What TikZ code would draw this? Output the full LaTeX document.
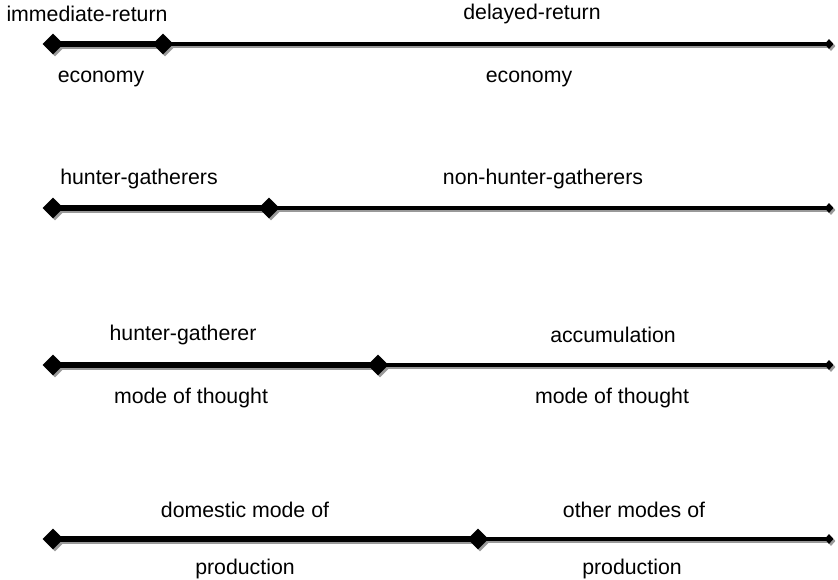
\documentclass[tikz,border=0pt]{standalone}
\usepackage{fontspec}
\setmainfont{Liberation Sans}
\usetikzlibrary{shapes.geometric}
\begin{document}
\begin{tikzpicture}[x=1pt,y=-1pt,
  lbl/.style={font=\fontsize{21.3}{25}\selectfont, inner sep=0pt, anchor=center},
  bigdia/.style={diamond, fill=black, inner sep=0pt, minimum width=21pt, minimum height=21pt},
  smalldia/.style={diamond, fill=black, inner sep=0pt, minimum width=9pt, minimum height=10pt},
  bigshadow/.style={diamond, fill=black!40, inner sep=0pt, minimum width=21pt, minimum height=21pt},
  smallshadow/.style={diamond, fill=black!40, inner sep=0pt, minimum width=9pt, minimum height=10pt},
  thickline/.style={line width=5.8pt},
  thinline/.style={line width=3.2pt},
  thickshadow/.style={line width=5.8pt, draw=black!40},
  thinshadow/.style={line width=3.2pt, draw=black!40}]
\useasboundingbox (0,0) rectangle (838,580);
\foreach \n/\y/\m in {1/44/163, 2/208/269, 3/365/378, 4/539/478}{
  \coordinate (a\n) at (53,\y);
  \coordinate (b\n) at (\m,\y);
  \coordinate (c\n) at (829,\y);
  \coordinate (sa\n) at (55,\y+2);
  \coordinate (sb\n) at (\m+2,\y+2);
  \coordinate (sc\n) at (831,\y+2);
}
% shadows
\foreach \n in {1,2,3,4}{
  \draw[thickshadow] (sa\n) -- (sb\n);
  \draw[thinshadow] (sb\n) -- (sc\n);
  \node[bigshadow] (dsa\n) at (sa\n) {};
  \node[bigshadow] (dsb\n) at (sb\n) {};
  \node[smallshadow] (dsc\n) at (sc\n) {};
}
% lines
\foreach \n in {1,2,3,4}{
  \draw[thickline] (a\n) -- (b\n);
  \draw[thinline] (b\n) -- (c\n);
  \node[bigdia] (da\n) at (a\n) {};
  \node[bigdia] (db\n) at (b\n) {};
  \node[smalldia] (dc\n) at (c\n) {};
}
% labels
\node[lbl] (t1a) at (87,14) {immediate-return};
\node[lbl] (t1b) at (532,14) {delayed-return};
\node[lbl] (u1a) at (101,79) {economy};
\node[lbl] (u1b) at (529,79) {economy};
\node[lbl] (t2a) at (139,179) {hunter-gatherers};
\node[lbl] (t2b) at (543,179) {non-hunter-gatherers};
\node[lbl] (t3a) at (183,335) {hunter-gatherer};
\node[lbl] (t3b) at (613,335) {accumulation};
\node[lbl] (u3a) at (191,398) {mode of thought};
\node[lbl] (u3b) at (612,398) {mode of thought};
\node[lbl] (t4a) at (245,510) {domestic mode of};
\node[lbl] (t4b) at (634,510) {other modes of};
\node[lbl] (u4a) at (245,569) {production};
\node[lbl] (u4b) at (632,569) {production};
\end{tikzpicture}
\end{document}
